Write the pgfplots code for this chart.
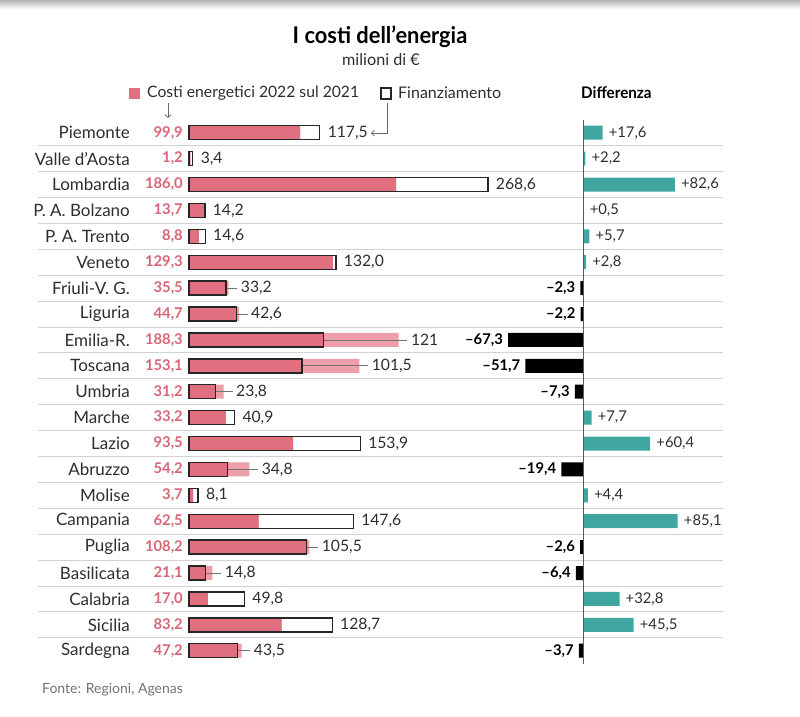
\documentclass[border=0pt]{standalone}
\usepackage{pgfplots}
\pgfplotsset{compat=1.18}
\usepackage{pgfplotstable}
\usepackage{fontspec}
\setmainfont{Lato}
\usetikzlibrary{arrows.meta}
\definecolor{pinkbar}{HTML}{E07080}
\definecolor{pinklight}{HTML}{ED9EA8}
\definecolor{pinktext}{HTML}{D86676}
\definecolor{tealbar}{HTML}{3FA6A0}
\definecolor{txt}{HTML}{2E2E2E}
\definecolor{sepc}{HTML}{D2D2D2}
\newcommand\lbl{\fontsize{14.8}{17}\selectfont}
\newcommand\nm{\fontsize{17}{19}\selectfont}
\newcommand\fl{\fontsize{15.7}{18}\selectfont}

\pgfplotstableread[col sep=semicolon]{
y;name;cost;fin;minv;lx;flabel
0;Piemonte;99.9;117.5;99.9;124.5;117,5
1;Valle d'Aosta;1.2;3.4;1.2;10.4;3,4
2;Lombardia;186.0;268.6;186.0;275.6;268,6
3;P. A. Bolzano;13.7;14.2;13.7;21.2;14,2
4;P. A. Trento;8.8;14.6;8.8;21.6;14,6
5;Veneto;129.3;132.0;129.3;139.0;132,0
6;Friuli-V. G.;35.5;33.2;33.2;46.5;33,2
7;Liguria;44.7;42.6;42.6;55.7;42,6
8;Emilia-R.;188.3;121;121;199.3;121
9;Toscana;153.1;101.5;101.5;164.1;101,5
10;Umbria;31.2;23.8;23.8;42.2;23,8
11;Marche;33.2;40.9;33.2;47.9;40,9
12;Lazio;93.5;153.9;93.5;160.9;153,9
13;Abruzzo;54.2;34.8;34.8;65.2;34,8
14;Molise;3.7;8.1;3.7;15.1;8,1
15;Campania;62.5;147.6;62.5;154.6;147,6
16;Puglia;108.2;105.5;105.5;119.2;105,5
17;Basilicata;21.1;14.8;14.8;32.1;14,8
18;Calabria;17.0;49.8;17.0;56.8;49,8
19;Sicilia;83.2;128.7;83.2;135.7;128,7
20;Sardegna;47.2;43.5;43.5;58.2;43,5
}\data

\pgfplotsset{rowax/.style={scale only axis, hide axis, clip=false, y dir=reverse,
  ymin=-0.5, ymax=20.5, height=543.9pt, enlargelimits=false},
  conn/.style={color=black!55, line width=0.8pt, forget plot}}

\begin{document}
\begin{tikzpicture}
\path[use as bounding box] (0pt,0pt) rectangle (800pt,-716pt);
\shade[top color=black!30, bottom color=white] (0pt,0pt) rectangle (800pt,-9pt);
\foreach \k in {1,...,20}
  \draw[sepc, line width=0.9pt] (38pt,{-(119.75+25.9*\k)*1pt}) -- (723pt,{-(119.75+25.9*\k)*1pt});

% titles
\node[font=\bfseries\fontsize{23}{26}\selectfont, text=black] at (380pt,-37pt) {\scalebox{0.95}[1]{I costi dell'energia}};
\node[font=\fontsize{16.2}{18}\selectfont, text=txt] at (381pt,-60pt) {milioni di €};
% legend
\fill[pinkbar] (129pt,-88pt) rectangle (140pt,-99pt);
\node[anchor=west, font=\fontsize{15.7}{18}\selectfont, text=txt, inner sep=0pt] at (147pt,-93pt) {Costi energetici 2022 sul 2021};
\draw[black!85, line width=1.2pt, fill=white] (381pt,-88pt) rectangle (391pt,-99pt);
\node[anchor=west, font=\fontsize{16}{18}\selectfont, text=txt, inner sep=0pt] at (398pt,-93pt) {Finanziamento};
\node[anchor=west, font=\bfseries\fontsize{16}{18}\selectfont, text=black, inner sep=0pt] at (581pt,-93pt) {\scalebox{0.95}[1]{Differenza}};
\draw[black!60, line width=0.7pt, -{Straight Barb[length=3pt]}] (168pt,-103pt) -- (168pt,-118pt);
\draw[black!60, line width=0.7pt, -{Straight Barb[length=3pt]}] (387pt,-103pt) -- (387pt,-133pt) -- (371pt,-133pt);
% footer
\node[anchor=west, font=\fontsize{14}{16}\selectfont, text=black!55, inner sep=0pt] at (42pt,-690pt) {Fonte: Regioni, Agenas};

\begin{axis}[rowax, at={(189pt,-119.75pt)}, anchor=north west, xmin=0, xmax=300, width=333.9pt]
\addplot[xbar, bar width=14pt, bar shift=0pt, fill=pinklight, draw=none] table[x=cost,y=y]{\data};
\addplot[xbar, bar width=14pt, bar shift=0pt, fill=pinkbar, draw=none] table[x=minv,y=y]{\data};
\addplot[conn] coordinates {(33.2,6) (43.5,6)};
\addplot[conn] coordinates {(42.6,7) (52.7,7)};
\addplot[conn] coordinates {(121,8) (196.3,8)};
\addplot[conn] coordinates {(101.5,9) (161.1,9)};
\addplot[conn] coordinates {(23.8,10) (39.2,10)};
\addplot[conn] coordinates {(34.8,13) (62.2,13)};
\addplot[conn] coordinates {(105.5,16) (116.2,16)};
\addplot[conn] coordinates {(14.8,17) (29.1,17)};
\addplot[conn] coordinates {(43.5,20) (55.2,20)};
\addplot[xbar, bar width=14pt, bar shift=0pt, fill=none, draw=black!85, line width=1.4pt] table[x=fin,y=y]{\data};
% financing labels
\addplot[draw=none, mark=none, nodes near coords, point meta=explicit symbolic,
  every node near coord/.append style={anchor=west, inner sep=0pt, font=\fl, text=txt}]
  table[x=lx,y=y,meta=flabel]{\data};
% cost labels
\addplot[draw=none, mark=none, point meta=explicit,
  nodes near coords={\pgfmathprintnumber[fixed,fixed zerofill,precision=1,use comma,assume math mode=true]{\pgfplotspointmeta}},
  every node near coord/.append style={anchor=east, inner sep=0pt, xshift=-6pt, font=\bfseries\lbl, text=pinktext}]
  table[x expr=0,y=y,meta=cost]{\data};
% region names
\addplot[draw=none, mark=none, nodes near coords, point meta=explicit symbolic,
  every node near coord/.append style={anchor=east, inner sep=0pt, xshift=-59pt, font=\nm, text=txt}]
  table[x expr=0,y=y,meta=name]{\data};
\end{axis}

\begin{axis}[rowax, at={(493.96pt,-119.75pt)}, anchor=north west, xmin=-80, xmax=100, width=200.34pt]
\addplot[xbar, bar width=14pt, bar shift=0pt, fill=tealbar, draw=none, point meta=x,
  nodes near coords={\pgfmathprintnumber[fixed,fixed zerofill,precision=1,use comma,showpos,assume math mode=true]{\pgfplotspointmeta}},
  every node near coord/.append style={anchor=west, inner sep=0pt, xshift=6pt, font=\lbl, text=txt}]
  coordinates {(17.6,0) (2.2,1) (82.6,2) (0.5,3) (5.7,4) (2.8,5) (7.7,11) (60.4,12) (4.4,14) (85.1,15) (32.8,18) (45.5,19)};
\addplot[xbar, bar width=14pt, bar shift=0pt, fill=black, draw=none, point meta={-x},
  nodes near coords={\textendash\pgfmathprintnumber[fixed,fixed zerofill,precision=1,use comma,assume math mode=true]{\pgfplotspointmeta}},
  every node near coord/.append style={anchor=east, inner sep=0pt, xshift=-5pt, font=\bfseries\lbl, text=black}]
  coordinates {(-2.3,6) (-2.2,7) (-67.3,8) (-51.7,9) (-7.3,10) (-19.4,13) (-2.6,16) (-6.4,17) (-3.7,20)};
\draw[black!65, line width=1pt] (axis cs:0,-0.5) -- (axis cs:0,20.5);
\end{axis}
\end{tikzpicture}
\end{document}
